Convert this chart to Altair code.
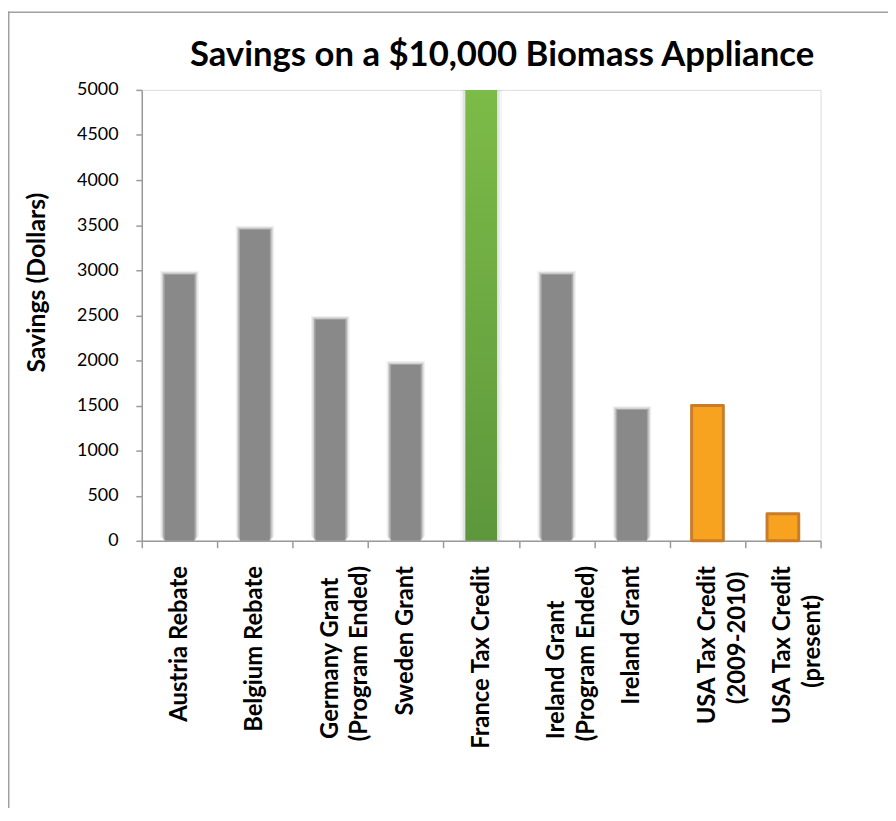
import altair as alt
import pandas as pd

NB = "\u00a0"
ZW = "\u200b"
title_text = "Savings on a $10,000 Biomass Appliance"
y_title = "Savings (Dollars)"
categories = [
    "Austria Rebate",
    "Belgium Rebate",
    "Germany Grant" + NB * 2 + ZW + "\n(Program Ended)",
    "Sweden Grant",
    "France Tax Credit",
    "Ireland Grant" + NB * 6 + ZW + "\n(Program Ended)",
    "Ireland Grant",
    "USA Tax Credit\n(2009-2010)" + NB * 1 + ZW,
    "USA Tax Credit\n(present)" + NB * 5 + ZW,
]
values = [2950, 3450, 2450, 1950, 5000, 2950, 1450, 1500, 300]
kinds = ["grant", "grant", "grant", "grant", "france", "grant", "grant", "usa", "usa"]
y_ticks = list(range(0, 5001, 500))

df = pd.DataFrame({"category": categories, "value": values, "kind": kinds})

FONT = "Lato"
W, H = 685, 455

x_enc = alt.X(
    "category:N",
    sort=categories,
    scale=alt.Scale(paddingInner=0, paddingOuter=0),
    axis=alt.Axis(
        title=None,
        labelAngle=270,
        labelAlign="right",
        labelBaseline="middle",
        labelFont=FONT,
        labelFontSize=24,
        labelFontWeight="bold",
        labelColor="#000000",
        labelPadding=18,
        labelExpr="split(datum.label, '\\n')",
        labelLineHeight=30,
        labelLimit=0,
        labelOverlap=False,
        tickBand="extent",
        tickSize=7,
        tickColor="#9a9a9a",
        tickWidth=1.5,
        domainColor="#9a9a9a",
        domainWidth=1.5,
        grid=False,
    ),
)
y_enc = alt.Y(
    "value:Q",
    scale=alt.Scale(domain=[0, 5000], nice=False),
    axis=alt.Axis(
        title=y_title,
        titleFont=FONT,
        titleFontSize=25,
        titleFontWeight="bold",
        titleColor="#000000",
        titleY=194,
        titlePadding=27,
        values=y_ticks,
        format="d",
        labelFont=FONT,
        labelFontSize=18,
        labelColor="#000000",
        labelPadding=18,
        tickSize=6,
        tickColor="#9a9a9a",
        tickWidth=1.5,
        domainColor="#9a9a9a",
        domainWidth=1.5,
        grid=False,
    ),
)

base = alt.Chart(df).encode(x=x_enc, y=y_enc)

gray = base.transform_filter(alt.datum.kind == "grant")
g1 = gray.mark_bar(size=39, color="#8a8a8a", opacity=0.12, yOffset=-4)
g2 = gray.mark_bar(size=36, color="#8a8a8a", opacity=0.3, yOffset=-2.5)
g3 = gray.mark_bar(size=33, color="#8a8a8a", opacity=0.6, yOffset=-1)
g4 = gray.mark_bar(size=30, color="#898989")

fr = base.transform_filter(alt.datum.kind == "france")
f1 = fr.mark_bar(size=42, color="#9a9a9a", opacity=0.1)
f2 = fr.mark_bar(size=37, color="#9a9a9a", opacity=0.2)
f3 = fr.mark_bar(
    size=32,
    color=alt.Gradient(
        gradient="linear",
        x1=0, x2=0, y1=0, y2=1,
        stops=[
            alt.GradientStop(color="#7dbb48", offset=0),
            alt.GradientStop(color="#5d973c", offset=1),
        ],
    ),
)

usa = base.transform_filter(alt.datum.kind == "usa").mark_bar(
    size=32, color="#f7a31f", stroke="#c97d2a", strokeWidth=3, strokeJoin="round"
)

one = alt.Data(values=[{"t": title_text}])
title_mark = alt.Chart(one).mark_text(
    font=FONT, fontSize=35, fontWeight="bold", color="#000000",
    align="center", baseline="alphabetic",
).encode(text="t:N", x=alt.value(W / 2 + 21), y=alt.value(-24))

left_rule = alt.Chart(one).mark_rule(color="#a0a0a0", strokeWidth=1.5).encode(
    x=alt.value(-134.25), y=alt.value(-79), y2=alt.value(H + 300)
)
top_rule = alt.Chart(one).mark_rule(color="#a0a0a0", strokeWidth=1.5).encode(
    x=alt.value(-135), x2=alt.value(W + 80), y=alt.value(-78.25)
)

chart = (
    alt.layer(g1, g2, g3, g4, f1, f2, f3, usa, left_rule, top_rule, title_mark)
    .properties(
        width=W,
        height=H,
        autosize=alt.AutoSizeParams(type="none"),
        padding={"left": 135, "top": 79, "right": 68, "bottom": 266},
    )
    .configure_view(stroke=None)
    .configure(background="white")
)

chart.save("out.html", embed_options={"renderer": "svg", "actions": False})
